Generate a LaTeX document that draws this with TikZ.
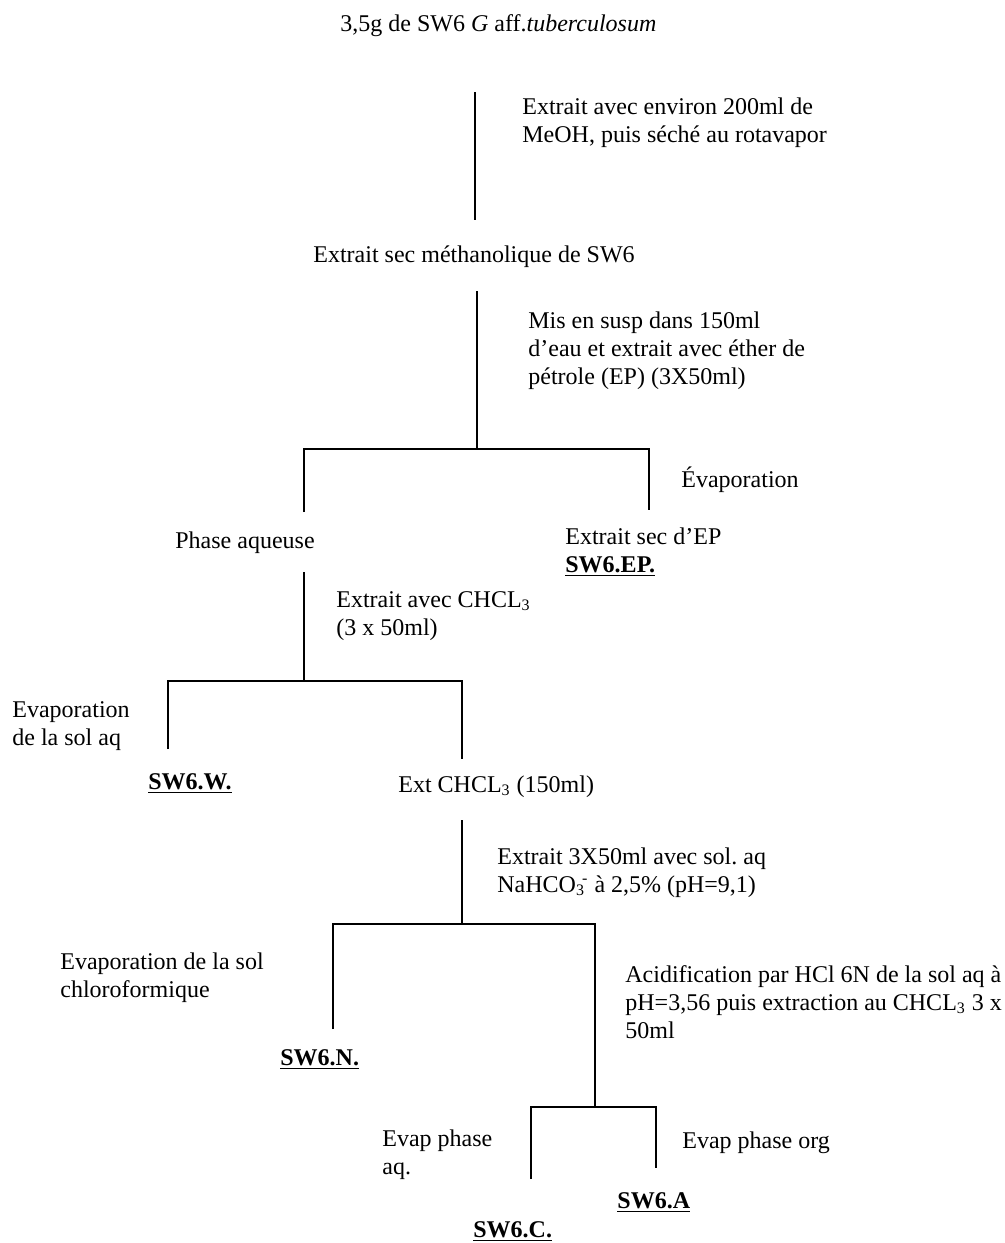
\documentclass[tikz,border=0pt]{standalone}
\usepackage{fontspec}
\setmainfont{Liberation Serif}
\frenchspacing
\begin{document}
\begin{tikzpicture}[x=0.5pt,y=-0.5pt,
  lbl/.style={inner sep=0pt, anchor=base west, align=left, font=\fontsize{12pt}{14pt}\selectfont},
  ln/.style={line width=0.9pt, line join=miter}]
\useasboundingbox (0,0) rectangle (1005,1243);
% texts (multi-line nodes: base = baseline of last line)
\node[lbl] (title) at (340,31) {3,5g de SW6 \textit{G} aff.\textit{tuberculosum}};
\node[lbl] (t1) at (522,142) {Extrait avec environ 200ml de\\MeOH, puis séché au rotavapor};
\node[lbl] (meth) at (313,262) {Extrait sec méthanolique de SW6};
\node[lbl] (t2) at (528,384) {Mis en susp dans 150ml\\d’eau et extrait avec éther de\\pétrole (EP) (3X50ml)};
\node[lbl] (evap1) at (681,487) {Évaporation};
\node[lbl] (aq) at (175,548) {Phase aqueuse};
\node[lbl] (ep) at (565,572) {Extrait sec d’EP\\\textbf{\underline{SW6.EP.}}};
\node[lbl] (t3) at (336,635) {Extrait avec CHCL\textsubscript{3}\\(3 x 50ml)};
\node[lbl] (evap2) at (12,745) {Evaporation\\de la sol aq};
\node[lbl] (w) at (148,789) {\textbf{\underline{SW6.W.}}};
\node[lbl] (chcl) at (398,792) {Ext CHCL\textsubscript{3} (150ml)};
\node[lbl] (t4) at (497,892) {Extrait 3X50ml avec sol. aq\\NaHCO\textsubscript{3}\kern-0.12em\textsuperscript{-} à 2,5\% (pH=9,1)};
\node[lbl] (evap3) at (60,997) {Evaporation de la sol\\chloroformique};
\node[lbl] (t5) at (625,1038) {Acidification par HCl 6N de la sol aq à\\pH=3,56 puis extraction au CHCL\textsubscript{3} 3 x\\50ml};
\node[lbl] (n) at (280,1065) {\textbf{\underline{SW6.N.}}};
\node[lbl] (evap4) at (382,1174) {Evap phase\\aq.};
\node[lbl] (evap5) at (682,1148) {Evap phase org};
\node[lbl] (a) at (617,1208) {\textbf{\underline{SW6.A}}};
\node[lbl] (c) at (473,1237) {\textbf{\underline{SW6.C.}}};
% line points
\coordinate (v1t) at (475,92);  \coordinate (v1b) at (475,220);
\coordinate (v2t) at (477,291); \coordinate (j1) at (477,449);
\coordinate (h1l) at (304,449); \coordinate (h1r) at (649,449);
\coordinate (h1lb) at (304,512); \coordinate (h1rb) at (649,510);
\coordinate (v3t) at (304,572); \coordinate (j2) at (304,681);
\coordinate (h2l) at (168,681); \coordinate (h2r) at (462,681);
\coordinate (h2lb) at (168,749); \coordinate (h2rb) at (462,759);
\coordinate (v4t) at (462,820); \coordinate (j3) at (462,924);
\coordinate (h3l) at (333,924); \coordinate (h3r) at (595,924);
\coordinate (h3lb) at (333,1029); \coordinate (j4) at (595,1107);
\coordinate (h4l) at (531,1107); \coordinate (h4r) at (656,1107);
\coordinate (h4lb) at (531,1179); \coordinate (h4rb) at (656,1168);
% lines
\draw[ln] (v1t) -- (v1b);
\draw[ln] (v2t) -- (j1);
\draw[ln] (h1lb) -- (h1l) -- (h1r) -- (h1rb);
\draw[ln] (v3t) -- (j2);
\draw[ln] (h2lb) -- (h2l) -- (h2r) -- (h2rb);
\draw[ln] (v4t) -- (j3);
\draw[ln] (h3lb) -- (h3l) -- (h3r) -- (j4);
\draw[ln] (h4lb) -- (h4l) -- (h4r) -- (h4rb);
\end{tikzpicture}
\end{document}
